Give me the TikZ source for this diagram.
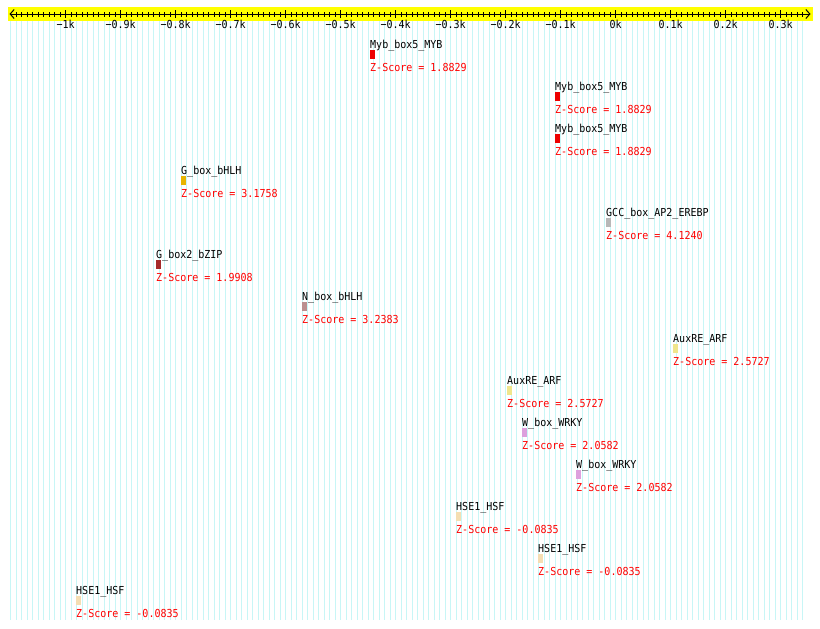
\documentclass[tikz,border=0pt]{standalone}
\usepackage{fontspec}
\setmonofont[FakeStretch=0.91]{DejaVu Sans Mono}
\usetikzlibrary{arrows.meta}
\definecolor{gridc}{HTML}{C8F6F6}
\definecolor{bandc}{HTML}{FFFF00}
\definecolor{zred}{HTML}{FF0000}
\definecolor{cMyb}{HTML}{EE0000}
\definecolor{cGbH}{HTML}{E8B400}
\definecolor{cGCC}{HTML}{B8B8B8}
\definecolor{cGbZ}{HTML}{A52A2A}
\definecolor{cNbH}{HTML}{BC8F8F}
\definecolor{cAux}{HTML}{F0E68C}
\definecolor{cWbx}{HTML}{DDA0DD}
\definecolor{cHSE}{HTML}{F5DEB3}
\tikzset{
  gridline/.style={draw=gridc,line width=0.8pt},
  minortick/.style={draw=black,line width=0.8pt},
  majortick/.style={draw=black,line width=1pt},
  axislabel/.style={anchor=base,inner sep=0pt,text=black},
  sitename/.style={anchor=base west,inner sep=0pt,text=black},
  scorelabel/.style={anchor=base west,inner sep=0pt,text=zred},
  sitebar/.style={anchor=north west,inner sep=0pt,minimum width=4.5pt,minimum height=9pt,draw=none},
}
\begin{document}
\begin{tikzpicture}[x=1pt,y=-1pt,font=\ttfamily\fontsize{11}{13}\selectfont]
\useasboundingbox (0,0) rectangle (820,629);
\fill[white] (0,0) rectangle (820,629);
% grid
\foreach \i in {-10,...,134}
  \draw[gridline] ({65.7+5.5*\i},21) -- ({65.7+5.5*\i},620);
% band
\fill[bandc] (8,7.3) rectangle (812.5,20.7);
% axis
\coordinate (axl) at (9.5,14);
\coordinate (axr) at (810.5,14);
\draw[line width=1pt,{Straight Barb[length=4pt,width=9pt]}-{Straight Barb[length=4pt,width=9pt]}] (axl) -- (axr);
\foreach \i in {-9,...,134}
  \draw[minortick] ({65.7+5.5*\i},12.2) -- ({65.7+5.5*\i},16.6);
\foreach \c/\v in {0/−1k,1/−0.9k,2/−0.8k,3/−0.7k,4/−0.6k,5/−0.5k,6/−0.4k,7/−0.3k,8/−0.2k,9/−0.1k,10/0k,11/0.1k,12/0.2k,13/0.3k}{
  \draw[majortick] ({65.7+55*\c},10.4) -- ({65.7+55*\c},18.4);
  \node[axislabel] (t\c) at ({65.7+55*\c},28.3) {\v};
}
% sites
\foreach \k/\x/\nm/\sc/\col in {
  0/370/Myb\_box5\_MYB/1.8829/cMyb,
  1/555/Myb\_box5\_MYB/1.8829/cMyb,
  2/555/Myb\_box5\_MYB/1.8829/cMyb,
  3/181/G\_box\_bHLH/3.1758/cGbH,
  4/606/GCC\_box\_AP2\_EREBP/4.1240/cGCC,
  5/156/G\_box2\_bZIP/1.9908/cGbZ,
  6/302/N\_box\_bHLH/3.2383/cNbH,
  7/673/AuxRE\_ARF/2.5727/cAux,
  8/507/AuxRE\_ARF/2.5727/cAux,
  9/522/W\_box\_WRKY/2.0582/cWbx,
  10/576/W\_box\_WRKY/2.0582/cWbx,
  11/456/HSE1\_HSF/-0.0835/cHSE,
  12/538/HSE1\_HSF/-0.0835/cHSE,
  13/76/HSE1\_HSF/-0.0835/cHSE}{
  \node[sitename] (n\k) at (\x,{48+42*\k}) {\nm};
  \node[sitebar,fill=\col] (b\k) at (\x,{50+42*\k}) {};
  \node[scorelabel] (z\k) at (\x,{71+42*\k}) {Z-Score = \sc};
}
\end{tikzpicture}
\end{document}
